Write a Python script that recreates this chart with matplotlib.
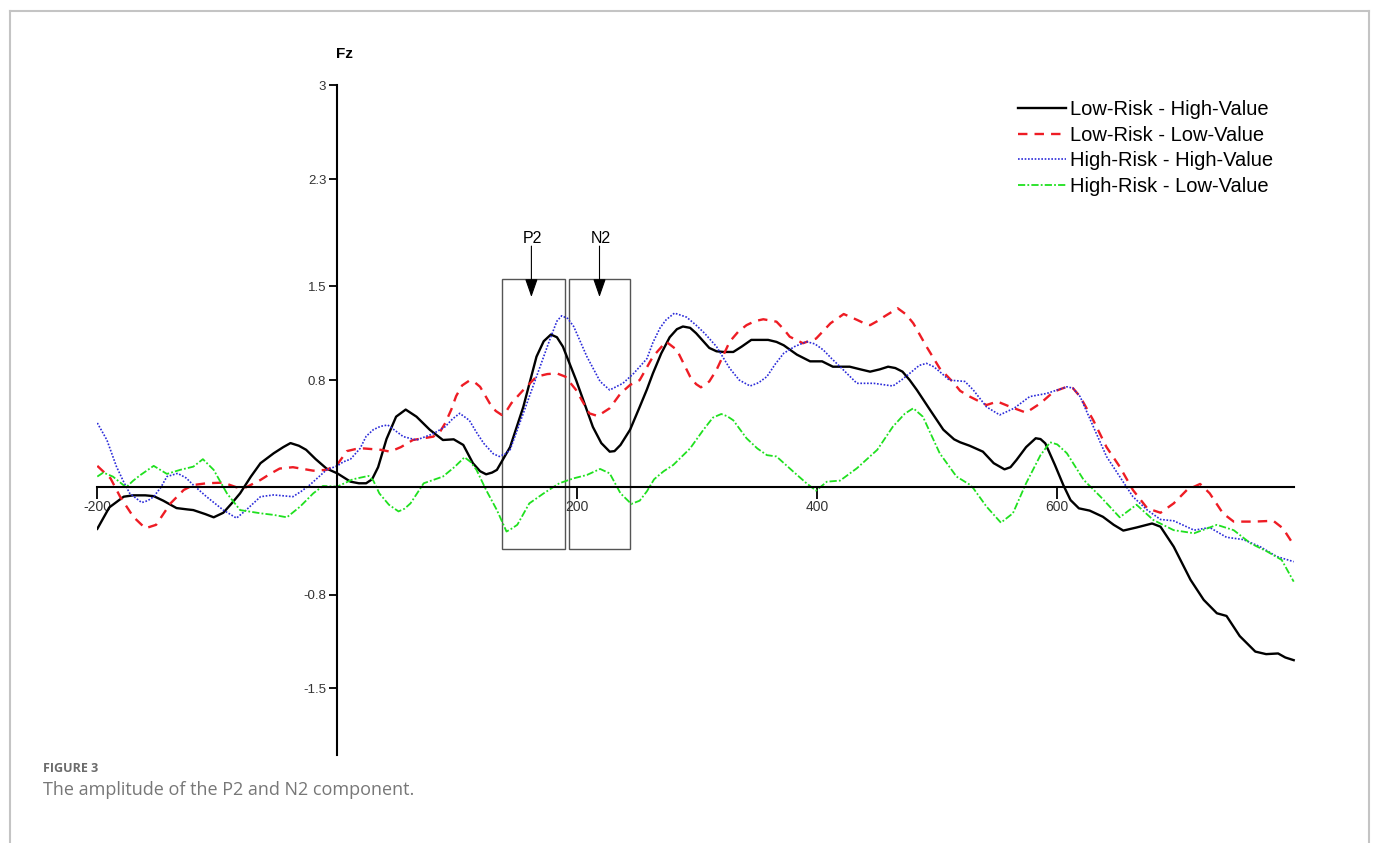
import numpy as np
import matplotlib.pyplot as plt
from matplotlib.patches import Rectangle
from matplotlib.lines import Line2D

plt.rcParams['font.family'] = ['Liberation Sans', 'DejaVu Sans']
plt.rcParams['axes.unicode_minus'] = False

# --- data (time in ms, amplitude in uV) ---
black_t = [-200, -190, -178, -170, -160, -153, -145, -139, -134, -125, -120, -110, -103, -95, -88, -81,
           -72, -64, -53, -45, -39, -32, -26, -18, -9, 0, 11, 18, 24, 29, 34, 41, 49, 57, 66, 77, 88, 97,
           105, 113, 119, 124, 129, 133, 144, 155, 166, 172, 178, 183, 188, 199, 213, 220, 227, 231, 236,
           244, 252, 258, 263, 270, 277, 283, 288, 294, 299, 305, 310, 316, 322, 330, 337, 345, 352, 359,
           366, 372, 383, 394, 404, 413, 427, 436, 444, 452, 459, 465, 471, 477, 483, 494, 505, 514, 519,
           527, 538, 547, 556, 561, 566, 574, 582, 586, 590, 598, 605, 611, 618, 627, 638, 647, 655, 666,
           679, 686, 697, 711, 722, 733, 741, 752, 765, 774, 784, 790, 797]
black_v = [-0.31, -0.15, -0.07, -0.06, -0.06, -0.066, -0.1, -0.13, -0.155, -0.165, -0.17, -0.2, -0.224,
           -0.19, -0.12, -0.045, 0.08, 0.18, 0.254, 0.3, 0.33, 0.31, 0.28, 0.21, 0.14, 0.104, 0.042, 0.03,
           0.03, 0.06, 0.15, 0.36, 0.527, 0.58, 0.527, 0.43, 0.353, 0.358, 0.316, 0.18, 0.12, 0.097, 0.11,
           0.13, 0.30, 0.60, 0.975, 1.09, 1.14, 1.12, 1.05, 0.80, 0.45, 0.33, 0.266, 0.27, 0.316, 0.43,
           0.60, 0.73, 0.85, 1.0, 1.12, 1.18, 1.20, 1.19, 1.15, 1.09, 1.04, 1.015, 1.01, 1.01, 1.05, 1.10,
           1.10, 1.10, 1.085, 1.06, 0.99, 0.94, 0.94, 0.90, 0.90, 0.88, 0.863, 0.88, 0.90, 0.89, 0.863,
           0.80, 0.726, 0.577, 0.43, 0.358, 0.336, 0.31, 0.266, 0.18, 0.134, 0.15, 0.204, 0.30, 0.366,
           0.36, 0.328, 0.167, 0.017, -0.095, -0.157, -0.174, -0.22, -0.28, -0.323, -0.30, -0.27, -0.294,
           -0.443, -0.69, -0.84, -0.94, -0.96, -1.11, -1.226, -1.245, -1.24, -1.27, -1.29]

red_t = [-200, -189, -181, -170, -160, -151, -145, -139, -128, -120, -109, -95, -84, -76, -64, -56, -48,
         -37, -20, -9, 0, 8, 15, 22, 36, 44, 53, 63, 80, 86, 90, 95, 99, 104, 110, 115, 119, 127, 132,
         137, 141, 145, 155, 166, 175, 183, 190, 199, 210, 217, 227, 236, 244, 252, 263, 274, 283, 294,
         299, 303, 310, 316, 327, 334, 341, 348, 355, 366, 372, 377, 388, 399, 411, 422, 433, 440, 444,
         450, 455, 467, 474, 480, 491, 502, 514, 519, 527, 541, 550, 561, 574, 586, 597, 608, 613, 619,
         630, 641, 652, 663, 675, 686, 697, 708, 719, 727, 738, 747, 764, 780, 788, 797]
red_v = [0.16, 0.067, -0.07, -0.22, -0.306, -0.28, -0.2, -0.12, -0.02, 0.017, 0.03, 0.035, 0.0, 0.0,
         0.055, 0.1, 0.14, 0.15, 0.124, 0.13, 0.17, 0.27, 0.285, 0.29, 0.28, 0.266, 0.3, 0.353, 0.378,
         0.42, 0.48, 0.58, 0.68, 0.76, 0.796, 0.78, 0.75, 0.627, 0.57, 0.54, 0.57, 0.627, 0.726, 0.826,
         0.845, 0.85, 0.826, 0.726, 0.552, 0.532, 0.59, 0.70, 0.764, 0.80, 0.975, 1.087, 1.025, 0.826,
         0.77, 0.746, 0.79, 0.876, 1.087, 1.16, 1.21, 1.24, 1.254, 1.236, 1.18, 1.124, 1.075, 1.11,
         1.224, 1.293, 1.25, 1.22, 1.21, 1.24, 1.27, 1.336, 1.29, 1.224, 1.05, 0.888, 0.776, 0.72,
         0.677, 0.614, 0.64, 0.60, 0.557, 0.627, 0.714, 0.75, 0.74, 0.677, 0.50, 0.30, 0.154, -0.02,
         -0.157, -0.19, -0.12, -0.02, 0.025, -0.045, -0.194, -0.256, -0.256, -0.25, -0.306, -0.43]

blue_t = [-200, -192, -184, -178, -173, -163, -158, -153, -147, -142, -133, -126, -120, -109, -95, -84,
          -76, -64, -53, -37, -30, -23, -9, 0, 5, 11, 19, 24, 30, 36, 42, 55, 66, 80, 90, 96, 102, 110,
          116, 122, 130, 135, 140, 144, 155, 166, 177, 183, 187, 192, 197, 208, 219, 227, 238, 247, 252,
          258, 263, 269, 274, 281, 291, 299, 306, 316, 327, 335, 344, 351, 358, 365, 372, 381, 391, 398,
          405, 412, 419, 433, 447, 463, 470, 477, 485, 491, 497, 502, 510, 523, 530, 541, 552, 564, 577,
          591, 608, 613, 619, 630, 641, 652, 663, 675, 686, 697, 714, 727, 741, 755, 769, 783, 797]
blue_v = [0.48, 0.353, 0.154, 0.04, -0.045, -0.114, -0.1, -0.07, 0.0, 0.08, 0.104, 0.07, 0.017, -0.07,
          -0.17, -0.23, -0.17, -0.07, -0.057, -0.07, -0.03, 0.017, 0.13, 0.16, 0.19, 0.21, 0.29, 0.38,
          0.43, 0.455, 0.465, 0.378, 0.353, 0.40, 0.453, 0.51, 0.552, 0.50, 0.41, 0.328, 0.25, 0.23,
          0.25, 0.28, 0.552, 0.826, 1.10, 1.24, 1.28, 1.26, 1.20, 0.975, 0.79, 0.726, 0.776, 0.85, 0.9,
          0.96, 1.08, 1.19, 1.25, 1.30, 1.27, 1.21, 1.15, 1.05, 0.888, 0.8, 0.756, 0.78, 0.826, 0.92,
          1.0, 1.05, 1.087, 1.07, 1.025, 0.96, 0.90, 0.776, 0.776, 0.756, 0.8, 0.85, 0.91, 0.925, 0.9,
          0.863, 0.80, 0.79, 0.726, 0.60, 0.54, 0.59, 0.677, 0.70, 0.75, 0.74, 0.677, 0.453, 0.23, 0.08,
          -0.07, -0.17, -0.24, -0.25, -0.32, -0.30, -0.373, -0.39, -0.443, -0.517, -0.555]

green_t = [-200, -195, -187, -176, -170, -164, -153, -142, -131, -120, -112, -103, -92, -81, -64, -53,
           -42, -31, -20, -12, 0, 13, 26, 30, 35, 43, 51, 56, 61, 72, 88, 98, 106, 111, 116, 124, 133,
           141, 145, 150, 160, 172, 185, 197, 208, 219, 227, 236, 245, 252, 258, 264, 272, 280, 294, 305,
           313, 320, 325, 330, 341, 350, 358, 366, 380, 391, 399, 408, 419, 433, 450, 463, 473, 480, 488,
           495, 502, 516, 527, 530, 541, 553, 563, 574, 586, 594, 600, 608, 622, 636, 652, 666, 680, 697,
           714, 733, 747, 761, 775, 787, 797]
green_v = [0.08, 0.11, 0.08, 0.0, 0.05, 0.092, 0.16, 0.10, 0.13, 0.154, 0.21, 0.13, -0.045, -0.17,
           -0.194, -0.206, -0.224, -0.144, -0.045, 0.01, 0.005, 0.06, 0.085, 0.05, -0.045, -0.13, -0.18,
           -0.16, -0.12, 0.03, 0.08, 0.154, 0.224, 0.19, 0.13, -0.02, -0.17, -0.33, -0.31, -0.28, -0.12,
           -0.045, 0.03, 0.067, 0.092, 0.137, 0.104, -0.045, -0.124, -0.1, -0.03, 0.06, 0.12, 0.167, 0.29,
           0.428, 0.52, 0.547, 0.53, 0.50, 0.366, 0.29, 0.24, 0.23, 0.117, 0.03, -0.025, 0.042, 0.05,
           0.142, 0.28, 0.453, 0.55, 0.59, 0.527, 0.39, 0.254, 0.08, 0.02, -0.007, -0.144, -0.264,
           -0.194, 0.03, 0.24, 0.336, 0.32, 0.254, 0.055, -0.07, -0.224, -0.13, -0.244, -0.32, -0.343,
           -0.28, -0.32, -0.418, -0.48, -0.542, -0.704]

labels = ['Low-Risk - High-Value', 'Low-Risk - Low-Value', 'High-Risk - High-Value', 'High-Risk - Low-Value']
y_ticks = [3, 2.3, 1.5, 0.8, -0.8, -1.5]
x_ticks = [-200, 200, 400, 600]
windows = {'P2': (137.5, 190), 'N2': (193, 244)}

W, H = 1375, 843
fig = plt.figure(figsize=(W / 100, H / 100), dpi=100)
# axes placed so that 1 ms = 1.2 px and 1 uV = 134 px
ax = fig.add_axes([97.3 / W, 1 - 768.7 / H, 1200 / W, (768.7 - 38.4) / H])
ax.set_xlim(-200, 800)
ax.set_ylim(-2.1, 3.35)

ax.plot(black_t, black_v, color='black', lw=1.7, label=labels[0])
ax.plot(red_t, red_v, color='#ee1c24', lw=1.7, ls=(0, (4, 3)), label=labels[1])
ax.plot(blue_t, blue_v, color='#2b2bd9', lw=1.2, ls=(0, (1, 1)), label=labels[2])
ax.plot(green_t, green_v, color='#1fe01f', lw=1.3, ls=(0, (4, 1.2, 1, 1.2)), label=labels[3])

for s in ['top', 'right']:
    ax.spines[s].set_visible(False)
ax.spines['left'].set_position(('data', 0))
ax.spines['bottom'].set_position(('data', 0))
ax.spines['left'].set_bounds(-2, 3)
ax.spines['bottom'].set_bounds(-200, 797)
ax.spines['left'].set_linewidth(1.5)
ax.spines['bottom'].set_linewidth(1.5)

ax.set_yticks(y_ticks)
ax.set_yticklabels([str(v) for v in y_ticks])
ax.set_xticks(x_ticks)
ax.tick_params(axis='y', direction='out', length=6, width=1.3, labelsize=9.5, labelcolor='#333333', pad=2)
ax.tick_params(axis='x', direction='out', length=8.5, width=1.3, labelsize=10, labelcolor='#333333', pad=1)

ax.text(6, 3.18, 'Fz', fontweight='bold', fontsize=11, ha='center', va='bottom')

# component windows and arrows
for name, (t0, t1) in windows.items():
    ax.add_patch(Rectangle((t0, -0.46), t1 - t0, 1.555 + 0.46, fill=False, edgecolor='#555555', lw=1.0))
    tc = (t0 + t1) / 2 + (-2 if name == 'P2' else 0)
    ax.annotate('', xy=(tc, 1.42), xytext=(tc, 1.80),
                arrowprops=dict(arrowstyle='-|>,head_length=0.8,head_width=0.28', color='black',
                                lw=0.8, mutation_scale=14, shrinkA=0, shrinkB=0))
    ax.text(tc + 1, 1.80, name, fontsize=11.5, ha='center', va='bottom')

ax.legend(loc='upper left', bbox_to_anchor=(1018 / W, 1 - 100 / H), bbox_transform=fig.transFigure,
          frameon=False, fontsize=14.5, handlelength=2.4, handletextpad=0.2, labelspacing=0.33,
          borderpad=0, borderaxespad=0)

# page frame and caption
frame = dict(color='#c4c4c4', lw=1.5)
fig.add_artist(Line2D([9.5 / W, 9.5 / W], [0, 1 - 10.5 / H], **frame))
fig.add_artist(Line2D([1369 / W, 1369 / W], [0, 1 - 10.5 / H], **frame))
fig.add_artist(Line2D([9.5 / W, 1369 / W], [1 - 10.5 / H, 1 - 10.5 / H], **frame))
fig.text(43 / W, 1 - 769 / H, 'FIGURE 3', family='Open Sans', fontweight='bold', fontsize=9,
         color='#6b6b6b', va='center')
fig.text(43 / W, 1 - 790 / H, 'The amplitude of the P2 and N2 component.', family='Open Sans',
         fontsize=13, color='#777777', va='center')

fig.savefig('out.png', dpi=100)
